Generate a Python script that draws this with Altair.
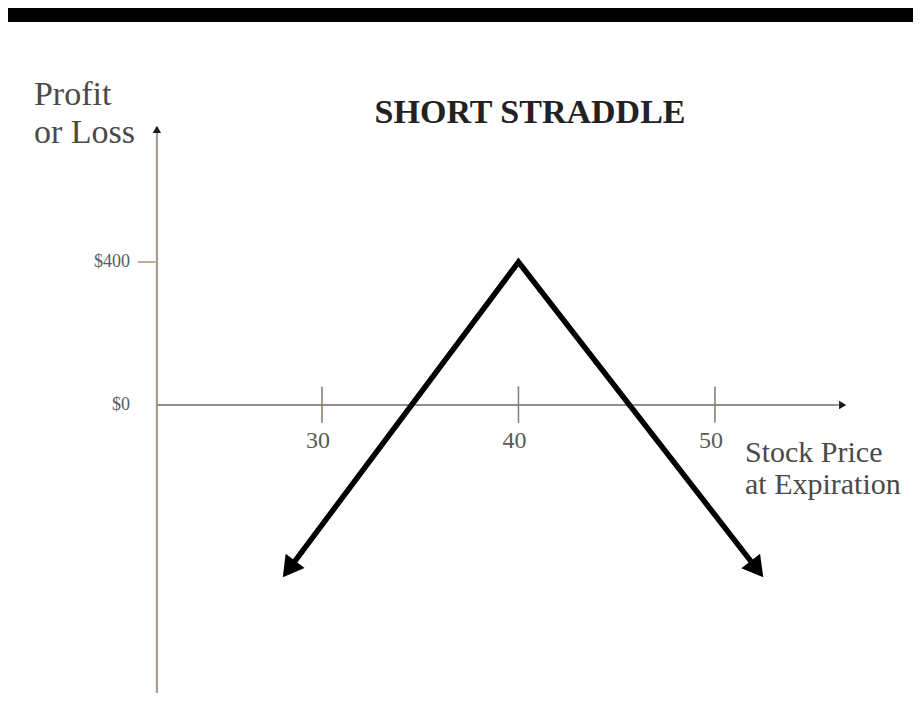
import altair as alt
import pandas as pd

# ---- data ----
# payoff line (stock price, profit); ends sit under the arrowheads
payoff_price = [28.32, 40.0, 52.14]
payoff_profit = [-459, 400, -459]

arrow_price = [28.32, 52.14]
arrow_profit = [-459, -459]
arrow_angle = [216.8, 142.2]

x_tick_values = [30, 40, 50]
x_tick_labels = ["30", "40", "50"]
y_tick_values = [400, 0]
y_tick_labels = ["$400", "$0"]

title_text = "SHORT STRADDLE"
y_title_lines = ["Profit", "or Loss"]
x_title_lines = ["Stock Price", "at Expiration"]

# axis geometry in data units
axis_x0 = 21.6          # where the vertical axis stands
y_axis_bottom, y_axis_top = -817, 763
x_axis_end = 56.3

xs = alt.Scale(domain=[14.02, 60.08], nice=False, zero=False)
ys = alt.Scale(domain=[-805.6, 1071.3], nice=False, zero=False)
X = lambda f: alt.X(f, type="quantitative", scale=xs, axis=None)
Y = lambda f: alt.Y(f, type="quantitative", scale=ys, axis=None)

serif = "Liberation Serif"

# vertical axis
yaxis_df = pd.DataFrame({"x": [axis_x0], "y": [y_axis_bottom], "y2": [y_axis_top]})
yaxis = alt.Chart(yaxis_df).mark_rule(color="#a89a8c", strokeWidth=2.2).encode(
    x=X("x"), y=Y("y"), y2="y2")

# horizontal axis
xaxis_df = pd.DataFrame({"x": [axis_x0], "x2": [x_axis_end], "y": [0]})
xaxis = alt.Chart(xaxis_df).mark_rule(color="#8f8f8f", strokeWidth=2.2).encode(
    x=X("x"), x2="x2", y=Y("y"))

# x ticks crossing the axis
xt_df = pd.DataFrame({"x": x_tick_values, "y": [-50] * 3, "y2": [52] * 3})
xticks = alt.Chart(xt_df).mark_rule(color="#8a8178", strokeWidth=1.6).encode(
    x=X("x"), y=Y("y"), y2="y2")

# $400 tick
yt_df = pd.DataFrame({"x": [20.63], "x2": [axis_x0], "y": [400]})
yticks = alt.Chart(yt_df).mark_rule(color="#c2ad98", strokeWidth=2).encode(
    x=X("x"), x2="x2", y=Y("y"))

# axis arrowheads
ax_arrow_df = pd.DataFrame({"x": [axis_x0, x_axis_end + 0.2], "y": [y_axis_top + 8, 0],
                            "a": [0, 90]})
ax_arrows = alt.Chart(ax_arrow_df).mark_point(
    shape="triangle-up", filled=True, color="#1a1a1a", size=70, opacity=1).encode(
    x=X("x"), y=Y("y"), angle=alt.Angle("a:Q", scale=None))

# payoff line
pay_df = pd.DataFrame({"x": payoff_price, "y": payoff_profit, "o": [0, 1, 2]})
payoff = alt.Chart(pay_df).mark_line(color="black", strokeWidth=5.5, strokeJoin="miter",
                                     strokeMiterLimit=10).encode(
    x=X("x"), y=Y("y"), order="o:Q")

arr_df = pd.DataFrame({"x": arrow_price, "y": arrow_profit, "a": arrow_angle})
arrows = alt.Chart(arr_df).mark_point(
    shape="triangle-up", filled=True, color="black", size=560, opacity=1).encode(
    x=X("x"), y=Y("y"), angle=alt.Angle("a:Q", scale=None))

# tick labels
xl_df = pd.DataFrame({"x": x_tick_values, "y": [-120] * 3, "t": x_tick_labels})
xlabels = alt.Chart(xl_df).mark_text(font=serif, fontSize=24, color="#5a5a5a",
                                     align="center", baseline="alphabetic", dx=-4).encode(
    x=X("x"), y=Y("y"), text="t:N")

yl_df = pd.DataFrame({"x": [20.23] * 2, "y": y_tick_values, "t": y_tick_labels})
ylabels = alt.Chart(yl_df).mark_text(font=serif, fontSize=18, color="#5a5a5a",
                                     align="right", baseline="middle").encode(
    x=X("x"), y=Y("y"), text="t:N")

# titles
title_df = pd.DataFrame({"x": [40.59], "y": [789], "t": [title_text]})
title = alt.Chart(title_df).mark_text(font=serif, fontSize=34, fontWeight="bold",
                                      color="#222222", align="center",
                                      baseline="alphabetic").encode(
    x=X("x"), y=Y("y"), text="t:N")

ytitle_df = pd.DataFrame({"x": [15.34] * 2, "y": [839, 733], "t": y_title_lines})
ytitle = alt.Chart(ytitle_df).mark_text(font=serif, fontSize=34, color="#4a4a4a",
                                        align="left", baseline="alphabetic").encode(
    x=X("x"), y=Y("y"), text="t:N")

xtitle_df = pd.DataFrame({"x": [51.53] * 2, "y": [-159, -249], "t": x_title_lines})
xtitle = alt.Chart(xtitle_df).mark_text(font=serif, fontSize=30, color="#4a4a4a",
                                        align="left", baseline="alphabetic").encode(
    x=X("x"), y=Y("y"), text="t:N")

chart = alt.layer(
    yaxis, xaxis, xticks, yticks, ax_arrows, payoff, arrows,
    xlabels, ylabels, title, ytitle, xtitle
).properties(
    width=905, height=671,
    padding={"top": 14, "left": 0, "right": 0, "bottom": 0},
    autosize=alt.AutoSizeParams(type="none"),
    background="black",
).configure_view(stroke=None, fill="white")

chart.save("out.html", embed_options={"renderer": "svg", "actions": False})
